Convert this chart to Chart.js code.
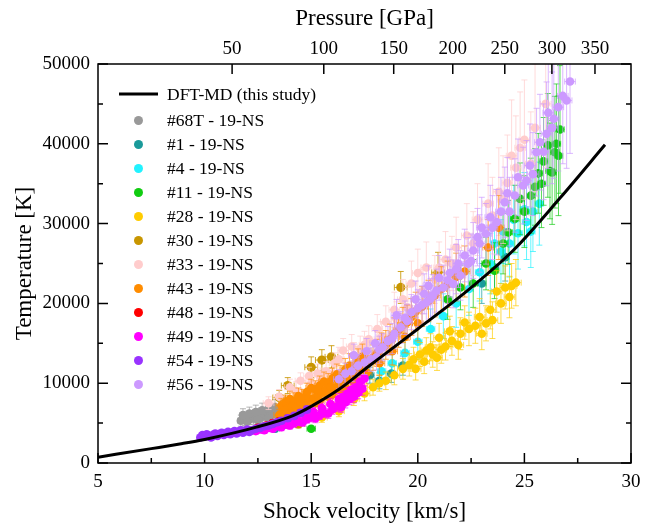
<!DOCTYPE html>
<html>
<head>
<meta charset="utf-8">
<script src="https://cdn.jsdelivr.net/npm/chart.js@4.4.1/dist/chart.umd.min.js"></script>
<style>
  html, body { margin: 0; padding: 0; background: #fff; }
  #wrap { width: 655px; height: 526px; }
</style>
</head>
<body>
<div id="wrap"><canvas id="graphCanvas" width="655" height="526"></canvas></div>
<script>
// DFT-MD curve
var dftVel  = [5.0, 7.5, 8.83, 10.0, 12.43, 14.15, 15.0, 16.34, 17.59, 18.7, 20.0, 22.05, 24.47, 26.67, 28.78];
var dftTemp = [730, 1800, 2380, 2950, 4490, 5950, 7100, 9300, 11900, 14150, 16800, 21000, 26630, 33200, 39870];

// top axis: pressure ticks and the shock velocity where they sit
var pressureTicks = [50, 100, 150, 200, 250, 300, 350];
var pressureAtVel = [11.29, 15.59, 18.87, 21.64, 24.08, 26.29, 28.31];

// shots: [velocity, temperature, temperature error]
var s68T = [[11.7,5300,700],[11.8,5600,700],[11.9,5400,700],[12.0,5700,700],[12.1,5500,700],[12.2,5800,750],[12.3,5600,750],[12.4,5900,750],[12.5,5700,750],[12.6,6000,800],[12.7,5800,800],[12.8,6100,800],[12.9,5900,800],[13.0,6200,850],[13.1,6000,850],[13.2,6300,850],[13.3,6100,900],[13.4,6400,900],[13.5,6200,900],[13.6,6600,950],[13.7,6300,950],[13.8,6700,1000],[12.0,5200,600],[12.5,5400,600],[13.0,5600,700],[11.8,6000,800],[12.1,6200,800],[12.4,6400,850],[12.7,6600,900],[13.0,6800,900],[13.3,7000,950]];
var s1 = [[13.3,4300,400],[17.75,11000,1000],[18.2,10300,1000],[18.76,11200,1100],[19.3,12200,1200],[23.0,22500,2500],[23.6,24500,2800],[24.1,25800,3000]];
var s4 = [[18.3,11500,1500],[18.8,12500,1800],[19.4,13800,2000],[20.0,15200,2200],[20.6,16800,2500],[21.2,18400,2800],[21.8,20000,3000],[22.4,21800,3300],[22.9,23900,3600],[23.4,25000,3800],[23.6,27500,3800],[23.9,26500,4000],[24.0,29000,4000],[24.3,27500,4200],[24.5,30500,4300],[24.7,28800,4500],[25.0,31800,4600],[25.1,30200,4700],[25.3,29000,4500],[25.4,31500,5000],[25.7,32500,5200]];
var s11 = [[15.0,4300,300],[21.4,20500,2500],[22.0,22000,2800],[22.6,22500,3000],[23.2,25000,3300],[23.6,24100,3500],[24.0,27500,3800],[24.24,28900,4000],[24.55,30600,4200],[24.8,33100,4500],[25.0,31500,4500],[25.3,33500,4700],[25.5,34600,4800],[25.65,36300,5000],[25.8,35000,5500],[25.9,37800,5500],[26.1,39800,6500],[26.2,36600,6000],[26.3,36400,6500],[26.43,38950,7000],[26.5,40000,7500],[26.6,38500,7500],[26.67,41800,8000]];
var s28 = [[15.5,5700,600],[16.3,6500,700],[17.0,8000,800],[17.5,8700,900],[17.9,9500,1000],[18.2,10000,1000],[18.5,10300,1100],[18.9,11000,1200],[19.3,11800,1300],[19.6,12300,1400],[19.8,13000,1500],[19.9,11800,1400],[20.1,13600,1500],[20.3,12700,1500],[20.4,14100,1600],[20.6,14500,1700],[20.7,13600,1600],[20.9,13200,1600],[21.0,15700,1800],[21.1,14200,1700],[21.3,14600,1700],[21.5,16500,1900],[21.6,15300,1800],[21.9,14800,1800],[22.0,16200,2000],[22.2,17600,2100],[22.4,16800,2100],[22.7,17200,2200],[22.9,18300,2300],[23.0,16200,2000],[23.2,17500,2200],[23.4,19200,2400],[23.5,17900,2300],[23.7,21500,2600],[23.9,20000,2500],[24.1,22000,2700],[24.3,20800,2600],[24.4,22200,2800],[24.6,22600,2900]];
var s30 = [[13.5,8200,900],[13.9,9700,1000],[14.4,4900,500],[15.0,12000,1300],[15.5,12900,1300],[15.95,13300,1400],[19.2,22000,2000],[20.95,23900,2500]];
var s33 = [[13.0,7500,800],[13.5,8300,900],[14.0,9500,1000],[14.3,9000,1200],[14.5,10300,1000],[14.9,10900,1100],[15.0,10000,1300],[15.3,11200,1200],[15.5,10600,1300],[15.7,11500,1200],[16.0,11200,1400],[16.1,12500,1300],[16.3,13000,1500],[16.5,14100,1500],[16.9,14600,1500],[17.0,13500,1600],[17.3,14300,1600],[17.5,14800,1700],[17.7,15500,1700],[18.1,16800,1800],[18.3,15800,1900],[18.5,17700,2000],[18.9,19200,2200],[19.0,18000,2200],[19.3,20500,2500],[19.5,19500,2500],[19.7,22500,2800],[20.0,23800,3000],[20.2,21500,2800],[20.4,24500,3200],[20.8,23000,3000],[21.0,24500,3200],[21.3,25500,3500],[21.6,25000,3400],[21.8,27000,3800],[22.3,28500,4000],[22.6,27500,4000],[22.8,30500,4500],[23.3,32500,5000],[23.5,31000,4800],[23.8,34000,5500],[24.0,33000,5500],[24.2,35100,6000],[24.4,38500,7000],[24.6,37000,6500],[24.8,39500,7000],[25.0,40500,7500],[25.3,37500,6500],[25.5,42000,8000],[26.0,45000,8000]];
var s43 = [[13.5,6000,700],[13.6,7200,900],[13.7,6500,700],[13.8,7600,900],[13.9,6800,750],[14.0,8000,1000],[14.1,7100,800],[14.2,7800,1000],[14.2,6600,800],[14.3,7000,800],[14.4,8400,1000],[14.5,7600,850],[14.6,8200,1000],[14.7,7400,850],[14.8,8900,1100],[14.8,7200,900],[14.9,8100,900],[15.0,9400,1100],[15.1,8000,900],[15.2,9200,1100],[15.3,8600,1000],[15.4,9700,1200],[15.4,7800,900],[15.5,8800,1000],[15.6,10200,1200],[15.7,9200,1100],[15.8,10000,1200],[15.9,9500,1100],[16.0,10600,1300],[16.0,8600,1000],[16.1,9400,1100],[16.2,11100,1300],[16.3,10000,1200],[16.4,10900,1300],[16.5,10300,1200],[16.6,11700,1400],[16.6,9600,1100],[16.7,10800,1300],[16.8,12200,1500],[16.9,11200,1300],[17.0,12000,1500],[17.1,11000,1300],[17.2,12700,1600],[17.2,10600,1300],[17.3,11700,1400],[17.4,13300,1600],[17.5,12300,1500],[17.7,12800,1500],[17.9,13200,1600],[18.1,13800,1700],[18.3,14500,1800],[18.5,14800,1800],[18.7,15500,1900],[18.9,16200,2000],[19.1,16600,2100],[19.3,17300,2200],[19.5,17600,2200],[19.7,18300,2300],[19.9,19000,2400],[20.2,19600,2500],[20.5,20300,2600],[20.8,21000,2700],[21.1,21800,2800],[21.4,22400,2900],[21.8,23300,3000],[22.2,24000,3200],[14.0,6200,700],[14.6,6900,800],[15.2,7500,900],[15.8,8300,1000],[16.4,9100,1100],[17.0,10200,1200],[17.6,11300,1400],[18.2,12500,1500],[18.8,14000,1700],[19.4,15800,2000],[20.0,17500,2200],[23.3,27000,3500],[23.8,29500,4000]];
var s48 = [[12.5,4400,400],[12.9,4700,400],[13.2,5000,450],[13.5,5200,450],[13.9,5500,500],[14.3,5800,500]];
var s49 = [[12.4,4000,400],[12.6,4200,400],[12.8,4100,400],[13.0,4400,400],[13.2,4300,400],[13.4,4600,450],[13.6,4500,450],[13.8,4800,450],[14.0,4700,450],[14.2,5000,500],[14.4,5200,500],[14.6,5100,500],[14.8,5500,500],[15.0,5700,550],[15.2,5600,550],[15.4,6000,550],[15.6,6300,600],[15.8,6200,600],[16.0,6700,600],[16.2,7100,650],[16.4,7000,650],[16.6,7600,700],[16.8,8000,700],[17.0,8300,750],[17.2,8800,750],[17.4,9300,800],[15.1,6400,550],[15.5,6900,600],[15.9,7400,650],[16.3,8000,700],[16.7,8700,750],[17.1,9500,800],[17.3,10200,850],[16.5,8300,700],[14.3,5600,500],[14.7,6000,550],[13.9,5200,450],[13.5,4900,450],[17.5,10600,900],[16.9,9200,800]];
var s54 = [[9.8,3200,300],[9.9,3500,300],[10.0,3300,300],[10.1,3600,300],[10.2,3400,300],[10.3,3200,300],[10.4,3500,300],[10.5,3700,300],[10.6,3400,300],[10.7,3600,300],[10.8,3800,300],[10.9,3500,300],[11.0,3700,300],[11.1,3900,300],[11.2,3600,300],[11.3,3800,300],[11.4,4000,300],[11.5,3700,300],[11.6,3900,300],[11.7,4100,300],[11.8,3800,300],[11.9,4000,300],[12.0,4200,300],[12.1,3900,300],[12.2,4100,350],[12.4,4300,350],[12.6,4400,350],[12.8,4600,350],[13.0,4700,350],[13.2,4900,350],[13.4,5100,350],[13.6,5300,400],[13.9,5600,400],[14.2,5900,400],[14.5,6300,400],[14.8,6700,450]];
var s56 = [[16.3,10500,1200],[16.6,11200,1300],[16.9,11500,1300],[17.0,13500,1400],[17.2,12200,1400],[17.5,12600,1500],[17.6,14000,1600],[17.8,13000,1500],[18.0,15000,1600],[18.06,13260,1600],[18.2,14200,1700],[18.36,14500,1700],[18.6,15300,1800],[18.8,15600,1900],[18.9,16200,1900],[19.0,18500,2000],[19.2,17000,2000],[19.4,18200,2100],[19.5,17800,2100],[19.7,18900,2200],[19.9,20500,2300],[20.0,19400,2300],[20.2,19800,2400],[20.3,21200,2500],[20.4,20150,2500],[20.5,22200,2500],[20.6,20600,2500],[20.7,21000,2600],[20.88,21600,2700],[21.0,23200,2800],[21.2,22000,2800],[21.4,22900,2900],[21.5,23800,3000],[21.66,22450,3000],[21.8,24300,3100],[21.9,25000,3000],[22.0,23500,3100],[22.2,26000,3300],[22.36,24960,3300],[22.5,25300,3400],[22.6,26630,3500],[22.8,28300,3600],[22.9,27500,3600],[23.0,29500,3800],[23.2,28720,3800],[23.4,30800,4000],[23.5,29500,4000],[23.7,30180,4100],[23.9,31500,4300],[24.08,32680,4400],[24.2,33800,4500],[24.3,31500,4300],[24.55,33520,4600],[24.7,35800,4800],[24.94,34770,4800],[25.1,35400,5000],[25.26,37280,5200],[25.4,36200,5200],[25.57,38950,5500],[25.73,40200,6000],[25.9,39000,6000],[26.04,41250,6500],[26.12,43890,7000],[26.3,42000,7000],[26.38,43130,7500],[26.59,44590,8000],[26.8,46000,8500],[26.98,45430,8500],[27.14,47800,9000]];

var seriesNames  = ["#68T - 19-NS", "#1 - 19-NS", "#4 - 19-NS", "#11 - 19-NS", "#28 - 19-NS", "#30 - 19-NS", "#33 - 19-NS", "#43 - 19-NS", "#48 - 19-NS", "#49 - 19-NS", "#54 - 19-NS", "#56 - 19-NS"];
var seriesData   = [s68T, s1, s4, s11, s28, s30, s33, s43, s48, s49, s54, s56];
var seriesColors = ["#999999", "#1a9a9a", "#22f2ff", "#11cc11", "#ffcc00", "#c89600", "#ffcccc", "#ff8c00", "#ff0000", "#ff00ff", "#9933ff", "#cc99ff"];
var seriesXErr   = [0.15, 0.2, 0.2, 0.2, 0.25, 0.3, 0.25, 0.25, 0.15, 0.15, 0.15, 0.25];

var FONT = "Liberation Serif";

function rgba(hex, a) {
  var n = parseInt(hex.slice(1), 16);
  return "rgba(" + (n >> 16) + "," + ((n >> 8) & 255) + "," + (n & 255) + "," + a + ")";
}

var datasets = [{
  label: "DFT-MD (this study)",
  data: dftVel.map(function (v, i) { return { x: v, y: dftTemp[i] }; }),
  showLine: true,
  borderColor: "#000",
  borderWidth: 3,
  pointRadius: 0,
  cubicInterpolationMode: "monotone",
  order: 0
}];

for (var i = 0; i < seriesData.length; i++) {
  datasets.push({
    label: seriesNames[i],
    data: seriesData[i].map(function (p) { return { x: p[0], y: p[1], ey: p[2] }; }),
    backgroundColor: seriesColors[i],
    pointBackgroundColor: seriesColors[i],
    pointBorderWidth: 0,
    pointRadius: i == 5 ? 4.6 : 4.3,
    errColor: rgba(seriesColors[i], i == 5 ? 0.85 : 0.7),
    xErr: seriesXErr[i],
    order: seriesData.length - i
  });
}

// error bars under each dataset's points
var errorBars = {
  id: "errorBars",
  beforeDatasetDraw: function (chart, args) {
    var ds = chart.data.datasets[args.index];
    if (!ds.errColor) return;
    var xs = chart.scales.x, ys = chart.scales.y, ctx = chart.ctx, a = chart.chartArea;
    ctx.save();
    ctx.beginPath();
    ctx.rect(a.left, a.top, a.right - a.left, a.bottom - a.top);
    ctx.clip();
    ctx.strokeStyle = ds.errColor;
    ctx.lineWidth = 1;
    ds.data.forEach(function (p) {
      var px = xs.getPixelForValue(p.x), py = ys.getPixelForValue(p.y);
      var t = ys.getPixelForValue(p.y + p.ey), b = ys.getPixelForValue(p.y - p.ey);
      var l = xs.getPixelForValue(p.x - ds.xErr), r = xs.getPixelForValue(p.x + ds.xErr);
      ctx.beginPath();
      ctx.moveTo(px, t); ctx.lineTo(px, b);
      ctx.moveTo(px - 3, t); ctx.lineTo(px + 3, t);
      ctx.moveTo(px - 3, b); ctx.lineTo(px + 3, b);
      ctx.moveTo(l, py); ctx.lineTo(r, py);
      ctx.moveTo(l, py - 3); ctx.lineTo(l, py + 3);
      ctx.moveTo(r, py - 3); ctx.lineTo(r, py + 3);
      ctx.stroke();
    });
    ctx.restore();
  }
};

// box, inward ticks and legend
var frameAndLegend = {
  id: "frameAndLegend",
  afterDraw: function (chart) {
    var ctx = chart.ctx, a = chart.chartArea;
    var xs = chart.scales.x, ys = chart.scales.y, xt = chart.scales.x2;
    ctx.save();
    ctx.strokeStyle = "#000";
    ctx.lineWidth = 1.5;
    ctx.strokeRect(a.left, a.top, a.right - a.left, a.bottom - a.top);
    ctx.beginPath();
    for (var v = 5; v <= 30; v += 2.5) {
      var px = xs.getPixelForValue(v), len = (v % 5 == 0) ? 10 : 5;
      ctx.moveTo(px, a.bottom); ctx.lineTo(px, a.bottom - len);
    }
    pressureAtVel.forEach(function (v) {
      var px = xt.getPixelForValue(v);
      ctx.moveTo(px, a.top); ctx.lineTo(px, a.top + 10);
    });
    for (var t = 0; t <= 50000; t += 5000) {
      var py = ys.getPixelForValue(t), tl = (t % 10000 == 0) ? 10 : 5;
      ctx.moveTo(a.left, py); ctx.lineTo(a.left + tl, py);
      ctx.moveTo(a.right, py); ctx.lineTo(a.right - tl, py);
    }
    ctx.stroke();

    // legend
    var lx = a.left + 21, ty = a.top + 30;
    ctx.font = "17.5px '" + FONT + "'";
    ctx.textBaseline = "middle";
    ctx.fillStyle = "#000";
    ctx.lineWidth = 3;
    ctx.beginPath();
    ctx.moveTo(lx, ty); ctx.lineTo(lx + 39, ty);
    ctx.stroke();
    ctx.fillText(chart.data.datasets[0].label, lx + 48, ty + 1);
    for (var k = 0; k < seriesNames.length; k++) {
      var yy = ty + 26.5 + k * 24;
      ctx.fillStyle = seriesColors[k];
      ctx.beginPath();
      ctx.arc(lx + 19.5, yy, 4.5, 0, Math.PI * 2);
      ctx.fill();
      ctx.fillStyle = "#000";
      ctx.fillText(seriesNames[k], lx + 48, yy + 1);
    }
    ctx.restore();
  }
};

var tickFont = { family: FONT, size: 19 };
var titleFont = { family: FONT, size: 23 };

new Chart(document.getElementById("graphCanvas"), {
  type: "scatter",
  data: { datasets: datasets },
  options: {
    responsive: false,
    animation: false,
    layout: { padding: { left: 0, right: 24, top: 0, bottom: 0 } },
    plugins: { legend: { display: false }, tooltip: { enabled: false } },
    scales: {
      x: {
        type: "linear", position: "bottom", min: 5, max: 30,
        ticks: { stepSize: 5, font: tickFont, color: "#000", padding: 8, maxRotation: 0 },
        grid: { display: false, drawTicks: false }, border: { display: false },
        title: { display: true, text: "Shock velocity [km/s]", font: titleFont, color: "#000", padding: { top: 0, bottom: 0 } },
        afterFit: function (s) { s.height = 63; }
      },
      x2: {
        type: "linear", position: "top", min: 5, max: 30,
        afterBuildTicks: function (s) { s.ticks = pressureAtVel.map(function (v) { return { value: v }; }); },
        ticks: { font: tickFont, color: "#000", padding: 4, maxRotation: 0, autoSkip: false,
                 callback: function (v, i) { return pressureTicks[i]; } },
        grid: { display: false, drawTicks: false }, border: { display: false },
        title: { display: true, text: "Pressure [GPa]", font: titleFont, color: "#000", padding: { top: 5, bottom: 0 } },
        afterFit: function (s) { s.height = 64; }
      },
      y: {
        type: "linear", min: 0, max: 50000,
        ticks: { stepSize: 10000, font: tickFont, color: "#000", padding: 8,
                 callback: function (v) { return String(v); } },
        grid: { display: false, drawTicks: false }, border: { display: false },
        title: { display: true, text: "Temperature [K]", font: titleFont, color: "#000", padding: { top: 11, bottom: 0 } },
        afterFit: function (s) { s.width = 98; }
      }
    }
  },
  plugins: [errorBars, frameAndLegend]
});
</script>
</body>
</html>
